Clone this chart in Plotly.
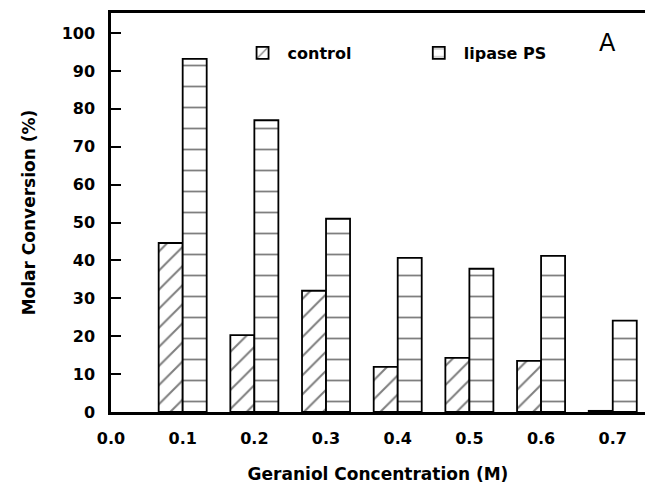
import plotly.graph_objects as go

concentration = [0.1, 0.2, 0.3, 0.4, 0.5, 0.6, 0.7]
control = [44.6, 20.3, 32.0, 11.9, 14.3, 13.5, 0.3]
lipase_ps = [93.2, 77.0, 51.0, 40.7, 37.8, 41.2, 24.1]
x_ticks = [0.0, 0.1, 0.2, 0.3, 0.4, 0.5, 0.6, 0.7]
y_ticks = list(range(0, 101, 10))

FONT = "DejaVu Sans"
bw = 0.0335

fig = go.Figure()
fig.add_trace(go.Bar(
    x=concentration, y=control, name="control", legend="legend",
    width=bw, offset=-bw,
    marker=dict(color="white", line=dict(color="black", width=1.8),
                pattern=dict(shape="/", size=13.5, solidity=0.15, fgcolor="black", bgcolor="white")),
))
fig.add_trace(go.Bar(
    x=concentration, y=lipase_ps, name="lipase PS", legend="legend2",
    width=bw, offset=0,
    marker=dict(color="white", line=dict(color="black", width=1.8),
                pattern=dict(shape="-", size=21, solidity=0.085, fgcolor="black", bgcolor="white")),
))

fig.add_annotation(text="A", xref="paper", yref="paper", x=0.93, y=0.925,
                   xanchor="center", yanchor="middle",
                   showarrow=False, font=dict(family=FONT, size=24, color="black", weight="normal"))

legend_font = dict(family=FONT, size=16, color="black", weight="bold")
fig.update_layout(
    width=645, height=484,
    margin=dict(l=111, r=0, t=13, b=72),
    paper_bgcolor="white", plot_bgcolor="white",
    font=dict(family=FONT, size=15, color="black", weight="bold"),
    showlegend=True,
    legend=dict(x=0.237, y=0.9, xanchor="left", yanchor="middle",
                font=legend_font, bgcolor="rgba(0,0,0,0)", itemwidth=40),
    legend2=dict(x=0.567, y=0.9, xanchor="left", yanchor="middle",
                 font=legend_font, bgcolor="rgba(0,0,0,0)", itemwidth=40),
    xaxis=dict(range=[0, 0.745], tickvals=x_ticks, ticktext=[f"{v:.1f}" for v in x_ticks],
               showline=True, linecolor="black", linewidth=2.5, mirror=True,
               ticks="", showgrid=False, zeroline=False, ticklabelstandoff=10,
               tickfont=dict(family=FONT, size=16, weight="bold"),
               title=dict(text="Geraniol Concentration (M)", standoff=22,
                          font=dict(family=FONT, size=17, weight="bold"))),
    yaxis=dict(range=[0, 105.3], tickvals=y_ticks,
               showline=True, linecolor="black", linewidth=2.5, mirror=False,
               ticks="inside", ticklen=10, tickwidth=2, tickcolor="black",
               showgrid=False, zeroline=False, ticklabelstandoff=10,
               tickfont=dict(family=FONT, size=16, weight="bold"),
               title=dict(text="Molar Conversion (%)", standoff=22,
                          font=dict(family=FONT, size=17, weight="bold"))),
)

fig.write_html("out.html", config={"displayModeBar": False},
               post_script="document.body.style.margin='0';")
